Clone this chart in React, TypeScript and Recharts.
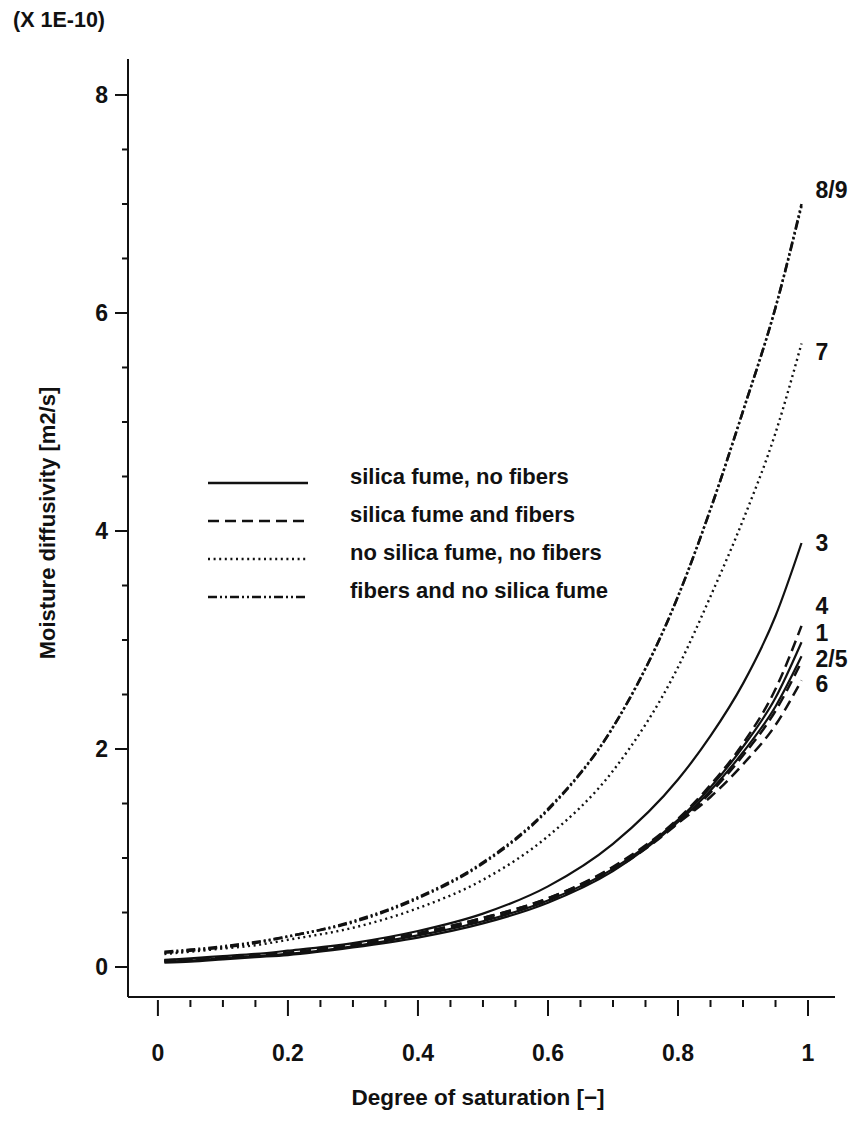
import React from "react";
import { LineChart, Line, XAxis, YAxis, Customized } from "recharts";

// Degree of saturation [-]
const SAT = [0.01, 0.05, 0.1, 0.15, 0.2, 0.3, 0.4, 0.5, 0.6, 0.7, 0.8, 0.85, 0.9, 0.95, 0.99];
// Moisture diffusivity (x 1E-10 m2/s)
const C1 = [0.05, 0.06, 0.08, 0.1, 0.12, 0.19, 0.29, 0.42, 0.61, 0.9, 1.35, 1.65, 2.02, 2.47, 2.98];
const C2 = [0.04, 0.05, 0.07, 0.09, 0.11, 0.18, 0.27, 0.4, 0.59, 0.88, 1.33, 1.62, 1.97, 2.39, 2.85];
const C3 = [0.065, 0.08, 0.1, 0.12, 0.15, 0.22, 0.33, 0.49, 0.74, 1.13, 1.72, 2.12, 2.6, 3.22, 3.89];
const C4 = [0.06, 0.07, 0.09, 0.11, 0.13, 0.21, 0.31, 0.45, 0.63, 0.92, 1.36, 1.67, 2.05, 2.55, 3.13];
const C5 = [0.05, 0.06, 0.08, 0.1, 0.12, 0.2, 0.3, 0.43, 0.61, 0.89, 1.32, 1.6, 1.94, 2.35, 2.8];
const C6 = [0.06, 0.07, 0.09, 0.11, 0.13, 0.21, 0.31, 0.45, 0.63, 0.91, 1.32, 1.56, 1.86, 2.22, 2.63];
const C7 = [0.12, 0.14, 0.17, 0.2, 0.25, 0.36, 0.54, 0.8, 1.2, 1.8, 2.75, 3.4, 4.1, 4.9, 5.72];
const C8 = [0.14, 0.16, 0.19, 0.23, 0.28, 0.42, 0.64, 0.96, 1.45, 2.2, 3.4, 4.2, 5.1, 6.05, 7.0];
const C9 = [0.13, 0.15, 0.18, 0.22, 0.28, 0.41, 0.63, 0.95, 1.44, 2.2, 3.4, 4.2, 5.1, 6.05, 6.98];

const X_TICKS = [0, 0.05, 0.1, 0.15, 0.2, 0.25, 0.3, 0.35, 0.4, 0.45, 0.5, 0.55, 0.6, 0.65, 0.7, 0.75, 0.8, 0.85, 0.9, 0.95, 1];
const X_MAJOR = ["0", "0.2", "0.4", "0.6", "0.8", "1"];
const Y_TICKS = [0, 0.5, 1, 1.5, 2, 2.5, 3, 3.5, 4, 4.5, 5, 5.5, 6, 6.5, 7, 7.5, 8];
const Y_MAJOR = ["0", "2", "4", "6", "8"];

const CURVE_LABELS = ["1", "2/5", "3", "4", "", "6", "7", "8/9", ""];
const LEGEND_NAMES = [
  "silica fume, no fibers",
  "silica fume and fibers",
  "no silica fume, no fibers",
  "fibers and no silica fume",
];

const FONT = "'Liberation Sans', Arial, Helvetica, sans-serif";
const INK = "#111";

const data = SAT.map((s, i) => ({
  s,
  c1: C1[i], c2: C2[i], c3: C3[i], c4: C4[i], c5: C5[i],
  c6: C6[i], c7: C7[i], c8: C8[i], c9: C9[i],
}));

const DASH = {
  solid: undefined as string | undefined,
  dashed: "11 6",
  dotted: "2 3.6",
  dashdot: "9 3 2 3 2 3",
};

const SERIES = [
  { key: "c1", dash: DASH.solid, w: 2.2, label: CURVE_LABELS[0], dy: -9 },
  { key: "c2", dash: DASH.solid, w: 2.2, label: CURVE_LABELS[1], dy: 3 },
  { key: "c3", dash: DASH.solid, w: 2.2, label: CURVE_LABELS[2], dy: 0 },
  { key: "c4", dash: DASH.dashed, w: 2.5, label: CURVE_LABELS[3], dy: -20 },
  { key: "c5", dash: DASH.dashed, w: 2.5, label: CURVE_LABELS[4], dy: 0 },
  { key: "c6", dash: DASH.dashed, w: 2.5, label: CURVE_LABELS[5], dy: 4 },
  { key: "c7", dash: DASH.dotted, w: 2.4, label: CURVE_LABELS[6], dy: 8 },
  { key: "c8", dash: DASH.dashdot, w: 2.5, label: CURVE_LABELS[7], dy: -14 },
  { key: "c9", dash: DASH.dashdot, w: 2.5, label: CURVE_LABELS[8], dy: 0 },
];

const LEGEND_DASH = [DASH.solid, DASH.dashed, DASH.dotted, DASH.dashdot];

const XTick = (props: any) => {
  const { x, y, payload } = props;
  const v = payload.value as number;
  const major = Math.abs(v * 5 - Math.round(v * 5)) < 1e-6;
  const idx = Math.round(v * 5);
  return (
    <g>
      <line x1={x} x2={x} y1={y + 3} y2={y + (major ? 19 : 10)} stroke={INK} strokeWidth={2} />
      {major && (
        <text x={x} y={y + 64} textAnchor="middle" fontFamily={FONT} fontWeight="bold" fontSize={23} fill={INK}>
          {X_MAJOR[idx]}
        </text>
      )}
    </g>
  );
};

const YTick = (props: any) => {
  const { x, y, payload } = props;
  const v = payload.value as number;
  const major = Math.abs(v / 2 - Math.round(v / 2)) < 1e-6;
  const idx = Math.round(v / 2);
  return (
    <g>
      <line x1={x} x2={x - (major ? 13 : 6)} y1={y} y2={y} stroke={INK} strokeWidth={2} />
      {major && (
        <text x={x - 20} y={y + 8} textAnchor="end" fontFamily={FONT} fontWeight="bold" fontSize={23} fill={INK}>
          {Y_MAJOR[idx]}
        </text>
      )}
    </g>
  );
};

const makeEndLabel = (text: string, dy: number) => (props: any) => {
  const { x, y, index } = props;
  if (!text || index !== SAT.length - 1) return null;
  return (
    <text x={x + 14} y={y + dy + 8} fontFamily={FONT} fontWeight="bold" fontSize={23} fill={INK}>
      {text}
    </text>
  );
};

const Annotations = () => (
  <g fontFamily={FONT} fill={INK}>
    <text x={5} y={19} fontSize={21.5} fontWeight="bold">(X 1E-10)</text>
    <text
      x={39}
      y={515}
      fontSize={22}
      fontWeight="bold"
      textAnchor="middle"
      dominantBaseline="central"
      transform="rotate(-90 39 515)"
    >
      Moisture diffusivity [m2/s]
    </text>
    <text x={470} y={1097} fontSize={22.5} fontWeight="bold" textAnchor="middle">
      Degree of saturation [−]
    </text>
    {LEGEND_NAMES.map((name, i) => {
      const ly = 475 + i * 38;
      return (
        <g key={name}>
          <line x1={200} x2={300} y1={ly} y2={ly} stroke={INK} strokeWidth={2.3} strokeDasharray={LEGEND_DASH[i]} />
          <text x={342} y={ly + 1} fontSize={22} fontWeight="bold">{name}</text>
        </g>
      );
    })}
  </g>
);

export default function App() {
  return (
    <div style={{ background: "#fff" }}>
      <LineChart
        width={841}
        height={1110}
        data={data}
        margin={{ top: 51, right: 14, left: 0, bottom: 0 }}
      >
        <XAxis
          dataKey="s"
          type="number"
          domain={[-0.046, 1.0415]}
          allowDataOverflow
          ticks={X_TICKS}
          interval={0}
          tickSize={0}
          tickMargin={0}
          tickLine={false}
          tick={<XTick />}
          height={121}
          axisLine={{ stroke: INK, strokeWidth: 2 }}
        />
        <YAxis
          type="number"
          domain={[-0.275, 8.33]}
          allowDataOverflow
          ticks={Y_TICKS}
          interval={0}
          tickSize={0}
          tickMargin={0}
          tickLine={false}
          tick={<YTick />}
          width={120}
          axisLine={{ stroke: INK, strokeWidth: 2 }}
        />
        {SERIES.map((s) => (
          <Line
            key={s.key}
            dataKey={s.key}
            type="monotone"
            stroke={INK}
            strokeWidth={s.w}
            strokeDasharray={s.dash}
            dot={false}
            activeDot={false}
            isAnimationActive={false}
            label={makeEndLabel(s.label, s.dy)}
          />
        ))}
        <Customized component={<Annotations />} />
      </LineChart>
    </div>
  );
}
